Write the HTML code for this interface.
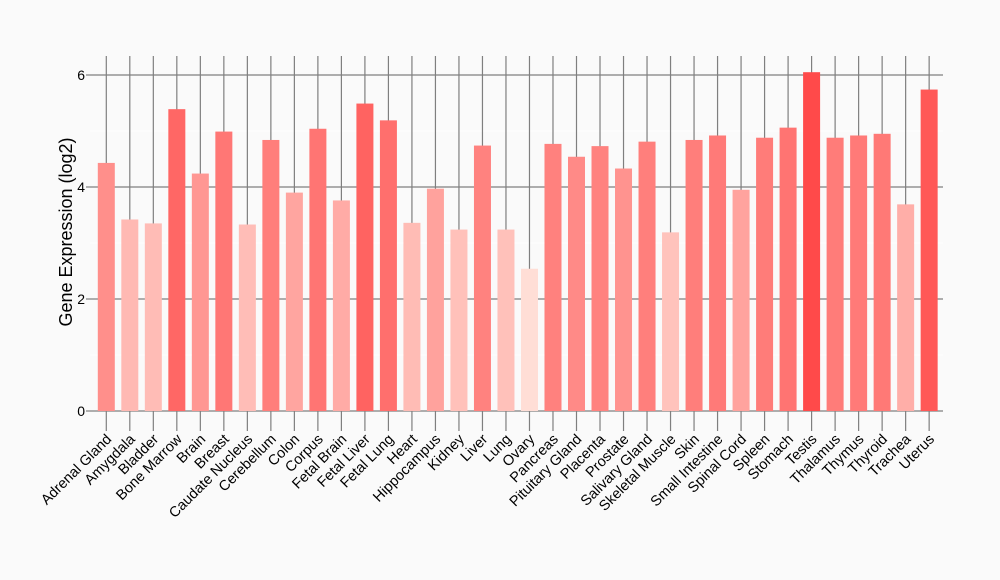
<!DOCTYPE html>
<html><head><meta charset="utf-8"><style>
html,body{margin:0;padding:0;background:#fafafa;}
svg{display:block;font-family:"Liberation Sans",Arial,sans-serif;}
</style></head><body>
<svg width="1000" height="580" viewBox="0 0 1000 580" xmlns="http://www.w3.org/2000/svg">
<rect width="1000" height="580" fill="#fafafa"/>
<g stroke="#ffffff" stroke-width="1">
<line x1="90" y1="355" x2="943" y2="355"/><line x1="90" y1="243" x2="943" y2="243"/><line x1="90" y1="131" x2="943" y2="131"/>
</g>
<g stroke="#7f7f7f" stroke-width="1.2">
<line x1="90" y1="411" x2="943" y2="411"/><line x1="90" y1="299" x2="943" y2="299"/><line x1="90" y1="187" x2="943" y2="187"/><line x1="90" y1="75" x2="943" y2="75"/>
<line x1="86" y1="411" x2="90" y2="411"/><line x1="86" y1="299" x2="90" y2="299"/><line x1="86" y1="187" x2="90" y2="187"/><line x1="86" y1="75" x2="90" y2="75"/>
</g>
<g id="vg" stroke="#7f7f7f" stroke-width="1.2"></g>
<g id="bars"></g>
<g font-size="14" fill="#000" text-anchor="end">
<text x="85" y="416">0</text><text x="85" y="304">2</text><text x="85" y="192">4</text><text x="85" y="80">6</text>
</g>
<text transform="translate(72,232) rotate(-90)" text-anchor="middle" font-size="18" fill="#000">Gene Expression (log2)</text>
<g id="labels" font-size="14.5" fill="#000" text-anchor="end"></g>
<script>
var d=[["Adrenal Gland",4.43,143,139],["Amygdala",3.42,185,179],["Bladder",3.35,188,182],["Bone Marrow",5.39,103,101],["Brain",4.24,151,147],["Breast",4.99,119,117],["Caudate Nucleus",3.33,189,183],["Cerebellum",4.84,126,123],["Colon",3.9,165,160],["Corpus",5.04,117,115],["Fetal Brain",3.76,171,166],["Fetal Liver",5.49,99,97],["Fetal Lung",5.19,111,109],["Heart",3.36,188,181],["Hippocampus",3.97,162,157],["Kidney",3.24,193,186],["Liver",4.74,130,127],["Lung",3.24,193,186],["Ovary",2.54,222,214],["Pancreas",4.77,129,126],["Pituitary Gland",4.54,138,135],["Placenta",4.73,130,127],["Prostate",4.33,147,143],["Salivary Gland",4.81,127,124],["Skeletal Muscle",3.19,195,188],["Skin",4.84,126,123],["Small Intestine",4.92,122,120],["Spinal Cord",3.95,163,158],["Spleen",4.88,124,121],["Stomach",5.06,116,114],["Testis",6.05,74,74],["Thalamus",4.88,124,121],["Thymus",4.92,122,120],["Thyroid",4.95,121,118],["Trachea",3.69,174,168],["Uterus",5.74,88,87]];
var ns="http://www.w3.org/2000/svg",vg=document.getElementById("vg"),b=document.getElementById("bars"),lb=document.getElementById("labels");
d.forEach(function(r,i){var x=106.3+23.51*i;
var l=document.createElementNS(ns,"line");l.setAttribute("x1",x);l.setAttribute("x2",x);l.setAttribute("y1",56);l.setAttribute("y2",431);vg.appendChild(l);
var h=r[1]*56;var re=document.createElementNS(ns,"rect");re.setAttribute("x",x-8.5);re.setAttribute("y",411-h);re.setAttribute("width",17);re.setAttribute("height",h);re.setAttribute("fill","rgb(255,"+r[2]+","+r[3]+")");b.appendChild(re);
var t=document.createElementNS(ns,"text");t.setAttribute("transform","translate("+(x+6)+",440) rotate(-45)");t.textContent=r[0];lb.appendChild(t);});
</script>
</svg>
</body></html>
